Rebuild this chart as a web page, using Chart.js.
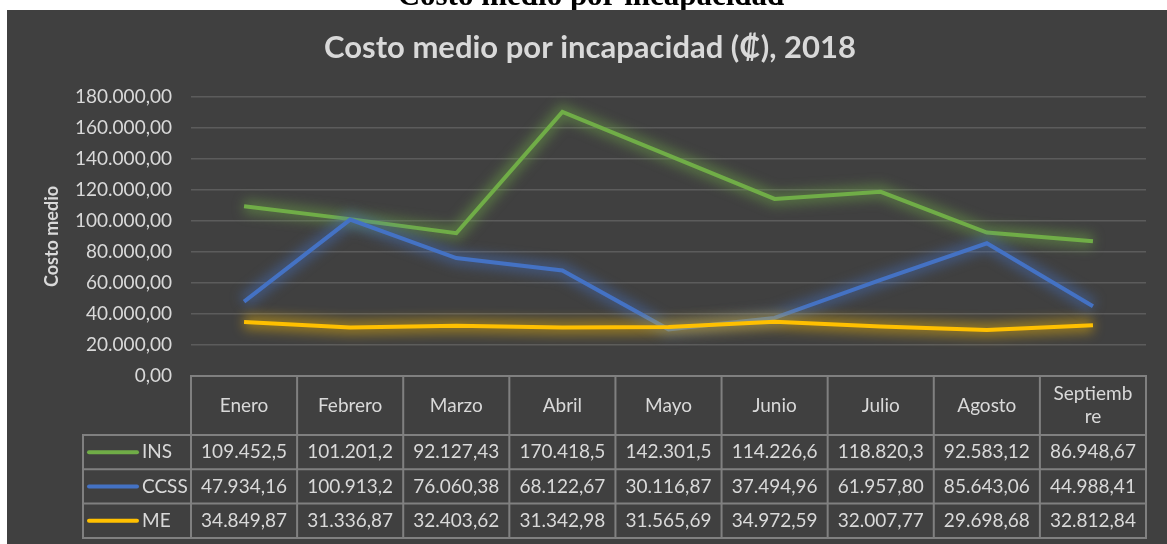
<!DOCTYPE html>
<html>
<head>
<meta charset="utf-8">
<script src="https://cdn.jsdelivr.net/npm/chart.js@4"></script>
<style>
  html, body { margin: 0; padding: 0; background: #fff; }
  #wrap { width: 1167px; height: 544px; }
</style>
</head>
<body>
<div id="wrap"><canvas id="line-chart" width="1167" height="544"></canvas></div>
<script>
const months = ['Enero', 'Febrero', 'Marzo', 'Abril', 'Mayo', 'Junio', 'Julio', 'Agosto', 'Septiembre']
const seriesNames = ['INS', 'CCSS', 'ME']
const ins = [109452.5, 101201.2, 92127.43, 170418.5, 142301.5, 114226.6, 118820.3, 92583.12, 86948.67]
const ccss = [47934.16, 100913.2, 76060.38, 68122.67, 30116.87, 37494.96, 61957.80, 85643.06, 44988.41]
const me = [34849.87, 31336.87, 32403.62, 31342.98, 31565.69, 34972.59, 32007.77, 29698.68, 32812.84]
const yTicks = [0, 20000, 40000, 60000, 80000, 100000, 120000, 140000, 160000, 180000]
const colors = ['#70ad47', '#4472c4', '#ffc000']

const FONT = 'Lato, "DejaVu Sans", sans-serif'
const TEXT = '#d9d9d9'
const BG = '#404040'

// 12345.6 -> "12.345,60" (excel style, fewer decimals when the cell gets tight)
function fmt(v, dec) {
  const s = v.toFixed(dec)
  const [i, f] = s.split('.')
  const g = i.replace(/\B(?=(\d{3})+(?!\d))/g, '.')
  return f ? g + ',' + f : g
}
const cellFmt = v => fmt(v, v >= 100000 ? 1 : 2)

// break a word by characters when it is wider than the cell
function wrap(ctx, text, maxW) {
  if (ctx.measureText(text).width <= maxW) return [text]
  const lines = []
  let cur = ''
  for (const ch of text) {
    if (ctx.measureText(cur + ch).width > maxW && cur) { lines.push(cur); cur = ch }
    else cur += ch
  }
  lines.push(cur)
  return lines
}

const panel = {
  id: 'panel',
  beforeDraw(chart) {
    const { ctx, width, height } = chart
    ctx.save()
    ctx.fillStyle = '#fff'
    ctx.fillRect(0, 0, width, height)
    ctx.fillStyle = BG
    ctx.fillRect(7, 10, width - 7, height - 10)
    // clipped caption above the picture
    ctx.beginPath()
    ctx.rect(0, 0, width, 10)
    ctx.clip()
    ctx.fillStyle = '#000'
    ctx.font = 'bold 31px "Liberation Serif", serif'
    ctx.textAlign = 'center'
    ctx.textBaseline = 'alphabetic'
    ctx.fillText('Costo medio por incapacidad', 591, 5)
    ctx.restore()

    ctx.save()
    ctx.fillStyle = TEXT
    ctx.font = 'bold 31px ' + FONT
    ctx.textAlign = 'center'
    ctx.textBaseline = 'middle'
    ctx.fillText('Costo medio por incapacidad (₡), 2018', 590, 48)
    ctx.restore()
  },
}

// soft halo under each line, like the excel glow effect
const glow = {
  id: 'glow',
  beforeDatasetDraw(chart, args) {
    const ctx = chart.ctx
    const line = args.meta.dataset
    const bw = line.options.borderWidth
    ctx.save()
    ctx.filter = 'blur(6px)'
    ctx.globalAlpha = 0.45
    line.options.borderWidth = 14
    line.draw(ctx, chart.chartArea)
    line.options.borderWidth = bw
    ctx.restore()
  },
}

const table = {
  id: 'dataTable',
  afterDraw(chart) {
    const { ctx, chartArea } = chart
    const x = chart.scales.x
    const step = x.getPixelForValue(1) - x.getPixelForValue(0)
    const top = chartArea.bottom
    const headH = 59
    const rowH = 34.3
    const legL = 83
    const L = chartArea.left
    const R = chartArea.right
    const bottom = top + headH + rowH * 3
    const rows = [ins, ccss, me]

    ctx.save()
    ctx.strokeStyle = '#808080'
    ctx.lineWidth = 2
    ctx.beginPath()
    ctx.rect(L, top, R - L, bottom - top)
    ctx.rect(legL, top + headH, L - legL, bottom - top - headH)
    for (let r = 1; r < 3; r++) {
      const y = top + headH + rowH * r
      ctx.moveTo(legL, y); ctx.lineTo(R, y)
    }
    ctx.moveTo(L, top + headH); ctx.lineTo(R, top + headH)
    for (let i = 1; i < months.length; i++) {
      const xx = x.getPixelForValue(i) - step / 2
      ctx.moveTo(xx, top); ctx.lineTo(xx, bottom)
    }
    ctx.stroke()

    ctx.fillStyle = TEXT
    ctx.font = '19px ' + FONT
    ctx.textAlign = 'center'
    ctx.textBaseline = 'middle'
    months.forEach((m, i) => {
      const cx = x.getPixelForValue(i)
      const lines = wrap(ctx, m, step - 24)
      const lh = 23
      lines.forEach((ln, k) => {
        ctx.fillText(ln, cx, top + headH / 2 + (k - (lines.length - 1) / 2) * lh)
      })
    })
    rows.forEach((vals, r) => {
      const cy = top + headH + rowH * (r + 0.5)
      vals.forEach((v, i) => ctx.fillText(cellFmt(v), x.getPixelForValue(i), cy))
      // legend key
      ctx.save()
      ctx.strokeStyle = colors[r]
      ctx.lineWidth = 4
      ctx.lineCap = 'round'
      ctx.beginPath()
      ctx.moveTo(89, cy); ctx.lineTo(137, cy)
      ctx.stroke()
      ctx.restore()
      ctx.textAlign = 'left'
      ctx.fillText(seriesNames[r], 142, cy)
      ctx.textAlign = 'center'
    })
    ctx.restore()
  },
}

const ctx = document.getElementById('line-chart').getContext('2d')
const myChart = new Chart(ctx, {
  type: 'line',
  data: {
    labels: months,
    datasets: [ins, ccss, me].map((d, i) => ({
      label: seriesNames[i],
      data: d,
      borderColor: colors[i],
      backgroundColor: colors[i],
      borderWidth: 4,
      pointRadius: 0,
      tension: 0,
      order: 2 - i,
    })),
  },
  options: {
    responsive: false,
    animation: false,
    devicePixelRatio: 1,
    layout: { padding: { top: 97, bottom: 544 - 376, left: 0, right: 21 } },
    plugins: { legend: { display: false }, tooltip: { enabled: false } },
    scales: {
      x: { display: false, offset: true },
      y: {
        min: 0,
        max: 180000,
        afterBuildTicks: s => { s.ticks = yTicks.map(v => ({ value: v })) },
        afterFit: s => { s.width = 191 },
        border: { display: false },
        grid: { color: '#5c5c5c', lineWidth: 1.5, drawTicks: false },
        ticks: {
          color: TEXT,
          padding: 19,
          font: { family: FONT, size: 19 },
          callback: v => fmt(v, 2),
        },
        title: {
          display: true,
          text: 'Costo medio',
          color: TEXT,
          font: { family: FONT, size: 18, weight: 'bold' },
          padding: { top: 41, bottom: 0 },
        },
      },
    },
  },
  plugins: [panel, glow, table],
})
</script>
</body>
</html>
